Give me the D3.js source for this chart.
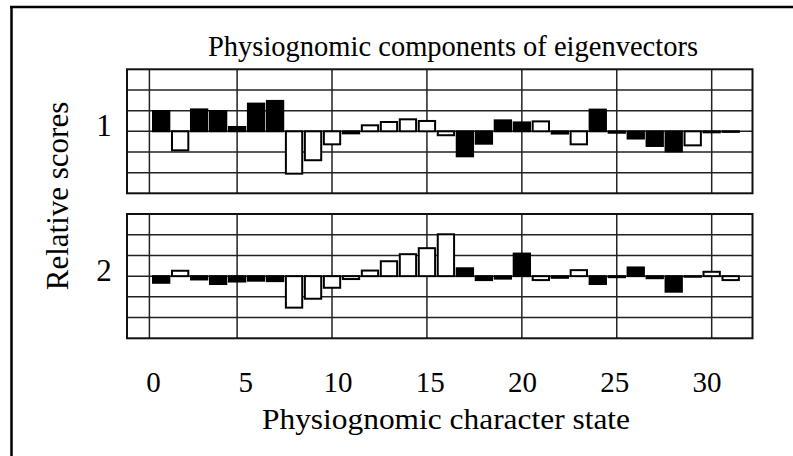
<!DOCTYPE html>
<html>
<head>
<meta charset="utf-8">
<script src="https://cdn.jsdelivr.net/npm/d3@7"></script>
<style>
body { margin: 0; background: #fff; }
text { font-family: "Liberation Serif", "Times New Roman", serif; fill: #000; }
</style>
</head>
<body>
<svg id="chart" width="793" height="456"></svg>
<script>
// character states 0..30
var states = d3.range(0, 31);

// eigenvector 1 scores (grid units) and whether the bar is filled black
var scores1 = [0.98, -0.92, 1.06, 0.98, 0.21, 1.34, 1.47, -2.05, -1.40, -0.63,
	-0.10, 0.29, 0.45, 0.58, 0.50, -0.19, -1.21, -0.60, 0.53, 0.43,
	0.48, -0.11, -0.63, 1.05, -0.07, -0.35, -0.71, -0.97, -0.68, -0.05, -0.03];
var filled1 = [1,0,1,1,1,1,1,0,0,0, 1,0,0,0,0,0,1,1,1,1, 0,1,0,1,1,1,1,1,0,1,1];

// eigenvector 2
var scores2 = [-0.32, 0.26, -0.16, -0.38, -0.26, -0.22, -0.24, -1.52, -1.09, -0.56,
	-0.14, 0.27, 0.72, 1.06, 1.35, 2.02, 0.38, -0.19, -0.12, 1.09,
	-0.19, -0.08, 0.29, -0.38, -0.05, 0.42, -0.10, -0.75, -0.03, 0.21, -0.19];
var filled2 = [1,0,1,1,1,1,1,0,0,0, 0,0,0,0,0,0,1,1,1,1, 0,1,0,1,1,1,1,1,1,0,0];

var gridStates = [-0.62, 4, 9, 14, 19, 24, 29];
var gridScores = [-2, -1, 0, 1, 2];
var tickLabels = [0, 5, 10, 15, 20, 25, 30];
var panelNames = ["1", "2"];

var svg = d3.select("#chart");

var x = d3.scaleLinear().domain([-1.8, 31.15]).range([127, 752.5]);
var xLabel = d3.scaleLinear().domain([0, 30]).range([x(-0.4), x(28.75)]);
var barHalf = 0.43;

// frame (left and top edges only)
svg.append("line").attr("x1", 11.5).attr("x2", 11.5).attr("y1", 6).attr("y2", 456)
	.attr("stroke", "#000").attr("stroke-width", 2.5);
svg.append("line").attr("x1", 10).attr("x2", 793).attr("y1", 7).attr("y2", 7)
	.attr("stroke", "#000").attr("stroke-width", 2.5);

function draw_panel(scores, filled, top, bottom, name) {
	var y = d3.scaleLinear().domain([-3, 3]).range([bottom, top]);
	var g = svg.append("g");

	g.selectAll(".hgrid").data(gridScores).enter().append("line")
		.attr("x1", x.range()[0]).attr("x2", x.range()[1])
		.attr("y1", function(d) { return y(d); })
		.attr("y2", function(d) { return y(d); })
		.attr("stroke", "#222").attr("stroke-width", 1.5);

	g.selectAll(".vgrid").data(gridStates).enter().append("line")
		.attr("x1", function(d) { return x(d); })
		.attr("x2", function(d) { return x(d); })
		.attr("y1", top).attr("y2", bottom)
		.attr("stroke", "#222").attr("stroke-width", 1.5);

	g.append("rect")
		.attr("x", x.range()[0]).attr("y", top)
		.attr("width", x.range()[1] - x.range()[0]).attr("height", bottom - top)
		.attr("fill", "none").attr("stroke", "#111").attr("stroke-width", 2);

	var bars = states.map(function(s, i) {
		return { state: s, value: scores[i], filled: filled[i] };
	});

	g.selectAll(".bar").data(bars).enter().append("rect")
		.attr("x", function(d) { return x(d.state - barHalf); })
		.attr("y", function(d) { return y(Math.max(0, d.value)); })
		.attr("width", function(d) { return x(d.state + barHalf) - x(d.state - barHalf); })
		.attr("height", function(d) { return Math.abs(y(d.value) - y(0)); })
		.attr("fill", function(d) { return d.filled ? "#000" : "#fff"; })
		.attr("stroke", "#000").attr("stroke-width", 2);

	g.append("text")
		.attr("x", 104).attr("y", y(0) + 5)
		.attr("text-anchor", "middle")
		.attr("font-size", 31)
		.text(name);
}

draw_panel(scores1, filled1, 69.3, 193.3, panelNames[0]);
draw_panel(scores2, filled2, 214, 338.3, panelNames[1]);

svg.selectAll(".tick").data(tickLabels).enter().append("text")
	.attr("x", function(d) { return xLabel(d); })
	.attr("y", 392)
	.attr("text-anchor", "middle")
	.attr("font-size", 29)
	.text(function(d) { return d; });

svg.append("text")
	.attr("x", 446).attr("y", 429)
	.attr("text-anchor", "middle")
	.attr("font-size", 30)
	.attr("textLength", 368).attr("lengthAdjust", "spacingAndGlyphs")
	.text("Physiognomic character state");

svg.append("text")
	.attr("transform", "translate(68,196) rotate(-90)")
	.attr("text-anchor", "middle")
	.attr("font-size", 31)
	.text("Relative scores");

svg.append("text")
	.attr("x", 453).attr("y", 56)
	.attr("text-anchor", "middle")
	.attr("font-size", 30)
	.attr("textLength", 490).attr("lengthAdjust", "spacingAndGlyphs")
	.text("Physiognomic components of eigenvectors");
</script>
</body>
</html>
